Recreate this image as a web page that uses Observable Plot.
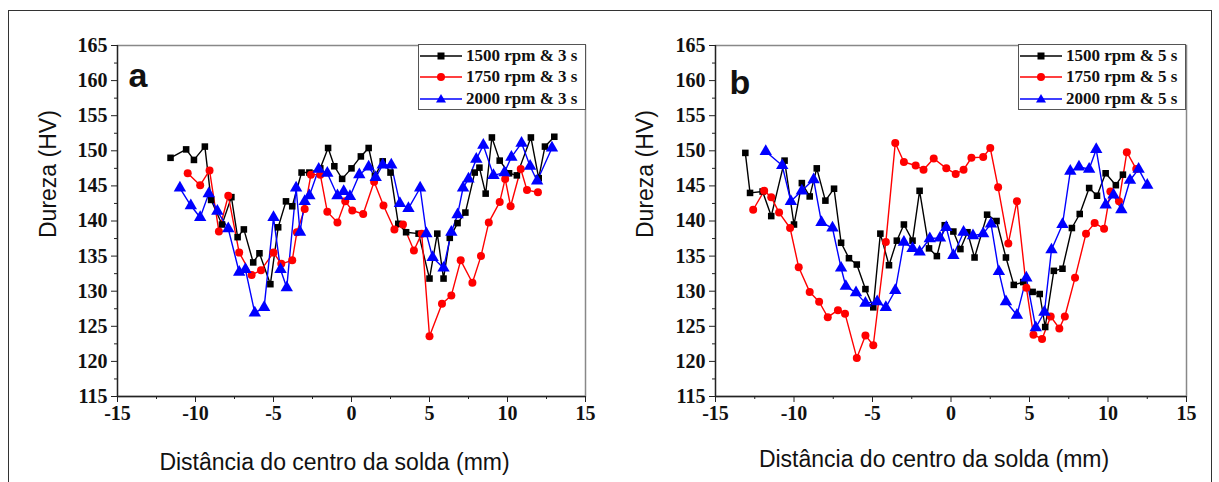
<!DOCTYPE html>
<html><head><meta charset="utf-8">
<script src="https://cdn.jsdelivr.net/npm/d3@7"></script>
<script src="https://cdn.jsdelivr.net/npm/@observablehq/plot@0.6"></script>
<style>
body{margin:0;background:#fff;width:1219px;height:482px;overflow:hidden;position:relative}
#frame{position:absolute;left:8px;top:10px;width:1204px;height:490px;border:1px solid #333;box-sizing:border-box}
.panel{position:absolute;top:0}
.panel svg g[aria-label$="tick label"], .panel svg g[aria-label$="tick label"] text{font-family:"Liberation Serif","Times New Roman",serif !important;font-size:20px !important;font-weight:bold !important;fill:#111}
.legend{position:absolute;top:44px;height:66px;border:1px solid #555;background:#fff;box-sizing:border-box;padding-top:0px}
.legend .row{display:flex;align-items:center;height:21.5px;font:bold 17px "Liberation Serif",serif;color:#111;white-space:nowrap}
.legend svg{margin-right:3px;flex:none}
</style></head><body>
<div id="frame"></div>
<div id="pa" class="panel" style="left:0"></div>
<div id="pb" class="panel" style="left:605px"></div>
<script>
// ---- axis ticks ----
const xTicks = [-15,-10,-5,0,5,10,15];
const xMinorTicks = [-12.5,-7.5,-2.5,2.5,7.5,12.5];
const yTicks = [115,120,125,130,135,140,145,150,155,160,165];
const yMinorTicks = [117.5,122.5,127.5,132.5,137.5,142.5,147.5,152.5,157.5,162.5];
const xTitle = "Distância do centro da solda (mm)";
const yTitle = "Dureza (HV)";

// ---- panel a series ----
const seriesA = ["1500 rpm & 3 s","1750 rpm & 3 s","2000 rpm & 3 s"];
const a1500_x = [-11.6,-10.6,-10.1,-9.4,-9.0,-8.3,-7.7,-7.3,-6.9,-6.3,-5.9,-5.2,-4.7,-4.2,-3.8,-3.2,-2.7,-2.0,-1.5,-1.1,-0.6,0.0,0.6,1.1,1.5,2.0,2.5,3.0,3.5,4.3,5.0,5.5,5.9,6.3,6.8,7.3,7.9,8.2,8.6,9.0,9.5,10.1,10.6,11.5,12.0,12.4,13.0];
const a1500_hv = [149.0,150.2,148.7,150.6,143.0,139.5,143.4,137.7,138.8,134.1,135.4,131.0,139.1,142.8,142.1,146.9,146.9,147.5,150.4,147.8,146.0,147.5,149.2,150.4,146.4,148.5,146.9,139.6,138.4,138.2,131.8,138.2,131.8,137.6,139.7,141.2,146.9,147.6,143.9,151.9,148.6,146.8,146.5,151.9,146.1,150.6,152.0];
const a1750_x = [-10.5,-9.7,-9.1,-8.5,-7.9,-7.2,-6.4,-5.8,-5.0,-4.5,-3.8,-3.5,-3.0,-2.6,-2.0,-1.55,-0.9,-0.4,0.05,0.75,1.45,2.05,2.75,3.3,4.0,4.5,5.0,5.8,6.4,7.0,7.75,8.3,8.8,9.5,9.85,10.2,10.85,11.25,11.95];
const a1750_hv = [146.8,145.1,147.2,138.5,143.6,135.5,132.3,133.0,135.5,133.9,134.4,138.4,141.7,146.6,146.6,141.3,139.8,142.8,141.5,141.0,145.6,142.2,138.8,139.5,135.8,138.2,123.6,128.2,129.4,134.4,131.2,135.0,139.8,142.7,146.0,142.1,147.4,144.4,144.1];
const a2000_x = [-11.0,-10.3,-9.7,-9.15,-8.6,-7.9,-7.2,-6.8,-6.2,-5.6,-5.0,-4.55,-4.15,-3.55,-3.3,-3.0,-2.7,-2.1,-1.55,-0.9,-0.5,-0.1,0.5,1.1,1.55,2.0,2.55,3.1,3.65,4.4,4.8,5.2,5.9,6.4,6.8,7.15,7.5,8.0,8.45,9.1,9.8,10.25,10.9,11.45,11.9,12.85];
const a2000_hv = [144.7,142.2,140.5,143.9,141.4,138.9,132.7,133.1,126.9,127.7,140.5,133.1,130.5,144.7,138.4,142.8,143.6,147.4,146.8,143.6,144.2,143.5,146.6,147.7,146.2,148.0,148.0,142.5,141.8,144.7,138.2,134.8,133.3,138.4,140.9,144.7,146.0,148.8,150.8,146.5,146.9,149.1,151.1,147.8,145.7,150.4];

// ---- panel b series ----
const seriesB = ["1500 rpm & 5 s","1750 rpm & 5 s","2000 rpm & 5 s"];
const b1500_x = [-13.1,-12.8,-12.0,-11.45,-10.6,-10.0,-9.5,-9.0,-8.55,-8.0,-7.45,-7.0,-6.5,-6.0,-5.45,-4.95,-4.5,-3.95,-3.45,-3.0,-2.45,-2.0,-1.4,-0.9,-0.4,0.15,0.6,1.05,1.5,2.3,2.9,3.5,4.0,4.6,5.2,5.65,6.0,6.55,7.1,7.7,8.2,8.8,9.3,9.85,10.5,10.95];
const b1500_hv = [149.7,144.0,144.2,140.7,148.6,139.5,145.4,143.5,147.5,142.9,144.6,136.9,134.7,133.8,130.3,127.7,138.2,133.7,137.2,139.5,137.2,144.3,136.1,135.0,139.4,138.5,136.0,138.4,134.8,140.9,140.0,134.8,130.9,131.3,129.9,129.6,124.9,132.9,133.2,139.0,141.0,144.7,143.6,146.8,145.1,146.6];
const b1750_x = [-12.6,-11.9,-11.45,-10.95,-10.25,-9.7,-9.0,-8.4,-7.85,-7.2,-6.75,-6.0,-5.45,-4.95,-4.15,-3.55,-3.0,-2.25,-1.75,-1.1,-0.3,0.3,0.8,1.3,2.05,2.5,3.0,3.65,4.2,4.8,5.25,5.8,6.35,6.9,7.25,7.9,8.6,9.15,9.75,10.15,10.7,11.2,11.8];
const b1750_hv = [141.6,144.3,143.4,141.2,139.0,133.4,129.9,128.5,126.3,127.3,126.8,120.5,123.7,122.3,137.0,151.1,148.4,147.9,147.3,148.9,147.5,146.7,147.3,149.0,149.1,150.4,144.8,136.8,142.8,130.5,123.8,123.2,126.4,124.7,126.4,131.9,138.2,139.7,138.9,144.2,142.8,149.8,147.4];
const b2000_x = [-11.8,-10.75,-10.2,-9.5,-8.75,-8.25,-7.55,-7.0,-6.7,-6.05,-5.45,-4.7,-4.15,-3.55,-3.0,-2.45,-2.0,-1.35,-0.7,-0.3,0.15,0.8,1.4,2.05,2.55,3.05,3.5,4.2,4.8,5.4,5.95,6.4,7.1,7.6,8.15,8.8,9.25,9.85,10.35,10.85,11.4,11.95,12.5];
const b2000_hv = [149.9,147.9,142.8,144.3,145.9,139.8,139.0,133.3,130.7,129.8,128.3,128.5,127.7,130.1,137.0,136.1,135.6,137.5,137.6,139.1,135.1,138.4,137.9,138.2,139.6,132.8,128.5,126.6,131.9,124.8,127.0,135.9,139.5,147.1,147.7,147.4,150.2,142.3,143.7,141.6,145.8,147.4,145.1];

// ---- styles (not data) ----
const styleColors = ["#000000","#ff0000","#0000ff"];
const styleSymbols = ["square","circle","triangle"];
const styleR = [3.7,4.0,4.6];
const sans = "'Liberation Sans', Arial, sans-serif";

function rows(xs, ys, name){ return xs.map((x,i)=>({x, hv: ys[i], series: name})); }

function makePanel(cfg){
  const serMarks = [];
  cfg.series.forEach((s,i)=>{
    const d = rows(cfg.xs[i], cfg.ys[i], s);
    serMarks.push(Plot.line(d,{x:"x",y:"hv",stroke:styleColors[i],strokeWidth:1.4}));
  });
  cfg.series.forEach((s,i)=>{
    const d = rows(cfg.xs[i], cfg.ys[i], s);
    serMarks.push(Plot.dot(d,{x:"x",y:"hv",symbol:styleSymbols[i],r:styleR[i],fill:styleColors[i],stroke:"none"}));
  });
  return Plot.plot({
    width: cfg.width, height: 482,
    marginLeft: cfg.ml, marginRight: cfg.mr, marginTop: 45, marginBottom: 86,
    x: {domain:[-15,15], label:null},
    y: {domain:[115,165], label:null},
    style: {background:"transparent", color:"#111"},
    marks: [
      Plot.frame({stroke:"#888", strokeWidth:1.5}),
      Plot.ruleX([-15],{stroke:"#222",strokeWidth:1.3}),
      Plot.ruleY([115],{stroke:"#222",strokeWidth:1.3}),
      Plot.axisX(xTicks,{tickSize:6,tickPadding:3,label:null,stroke:"#222",tickFormat:d=>String(d)}),
      Plot.axisX(xMinorTicks,{tickSize:3,tickFormat:()=>"",label:null,stroke:"#222"}),
      Plot.axisY(yTicks,{tickSize:6,tickPadding:4,label:null,stroke:"#222",tickFormat:d=>String(d)}),
      Plot.axisY(yMinorTicks,{tickSize:3,tickFormat:()=>"",label:null,stroke:"#222"}),
      ...serMarks,
      Plot.text([yTitle],{text:d=>d,frameAnchor:"left",dx:cfg.ydx,dy:17,rotate:-90,fontFamily:sans,fontSize:23,fontWeight:"normal",fill:"#111"}),
      Plot.text([xTitle],{text:d=>d,frameAnchor:"bottom",dx:-17,dy:cfg.xdy,fontFamily:sans,fontSize:23,fontWeight:"normal",fill:"#111"}),
      Plot.text([cfg.tag],{text:d=>d,frameAnchor:"top-left",textAnchor:"start",dx:cfg.tagdx,dy:cfg.tagdy,fontFamily:sans,fontSize:34,fontWeight:"bold",fill:"#111"})
    ]
  });
}

function legend(host, left, names){
  const div = document.createElement("div");
  div.className = "legend";
  div.style.left = left + "px";
  div.style.width = "168px";
  names.forEach((n,i)=>{
    const c = styleColors[i];
    let m;
    if (i===0) m = `<rect x="18.5" y="6.5" width="7" height="7" fill="${c}"/>`;
    else if (i===1) m = `<circle cx="22" cy="10" r="4" fill="${c}"/>`;
    else m = `<polygon points="22,5 27,13.5 17,13.5" fill="${c}"/>`;
    const row = document.createElement("div");
    row.className = "row";
    row.innerHTML = `<svg width="44" height="20"><line x1="1" x2="43" y1="10" y2="10" stroke="${c}" stroke-width="1.5"/>${m}</svg><span>${n}</span>`;
    div.appendChild(row);
  });
  host.appendChild(div);
}

document.getElementById("pa").appendChild(makePanel({
  width:605, ml:117, mr:20, series:seriesA,
  xs:[a1500_x,a1750_x,a2000_x], ys:[a1500_hv,a1750_hv,a2000_hv],
  ydx:-69, xdy:73, tag:"a", tagdx:11, tagdy:17
}));
document.getElementById("pb").appendChild(makePanel({
  width:614, ml:110, mr:33, series:seriesB,
  xs:[b1500_x,b1750_x,b2000_x], ys:[b1500_hv,b1750_hv,b2000_hv],
  ydx:-70, xdy:70, tag:"b", tagdx:14, tagdy:24
}));
legend(document.body, 418, seriesA);
legend(document.body, 1018, seriesB);
</script>
</body></html>
